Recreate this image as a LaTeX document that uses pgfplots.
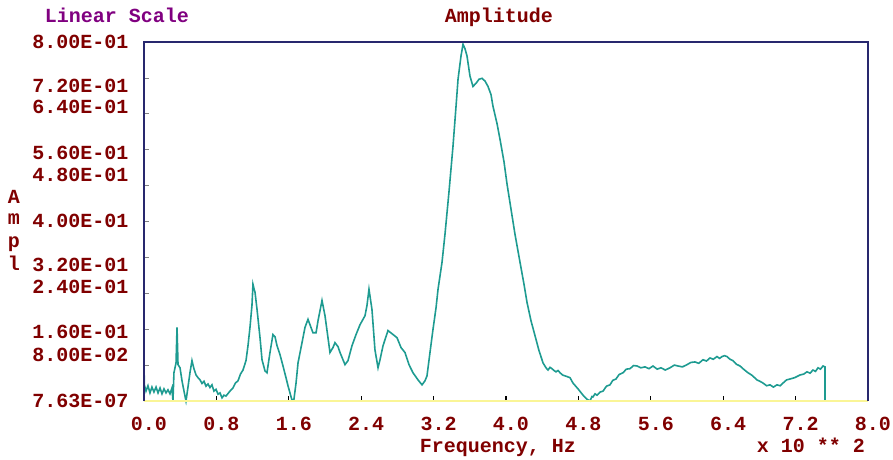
\documentclass[border=0pt]{standalone}
\usepackage{fontspec}
\newfontfamily\dosfont{Liberation Mono}
\usepackage{pgfplots}
\pgfplotsset{compat=1.18}
\definecolor{labred}{RGB}{128,0,0}
\definecolor{labpurple}{RGB}{128,0,128}
\definecolor{framenavy}{RGB}{40,40,110}
\definecolor{axisyellow}{RGB}{250,245,150}
\definecolor{curveteal}{RGB}{30,155,145}
\newcommand{\lbl}{\dosfont\bfseries\fontsize{20bp}{22bp}\selectfont}

\pgfplotstableread{
x y
0.000 0.075
0.005 0.035
0.022 0.022
0.044 0.034
0.066 0.018
0.088 0.031
0.110 0.020
0.133 0.031
0.155 0.018
0.177 0.029
0.199 0.016
0.221 0.027
0.243 0.018
0.265 0.025
0.287 0.016
0.309 0.029
0.320 0.000
0.331 0.063
0.354 0.085
0.365 0.164
0.376 0.081
0.398 0.074
0.420 0.045
0.442 0.022
0.464 0.000
0.486 0.031
0.508 0.063
0.530 0.090
0.552 0.072
0.575 0.058
0.597 0.052
0.619 0.047
0.641 0.039
0.663 0.044
0.685 0.033
0.707 0.038
0.729 0.030
0.751 0.036
0.773 0.022
0.796 0.026
0.818 0.015
0.840 0.018
0.862 0.007
0.884 0.013
0.906 0.011
0.950 0.022
0.983 0.029
1.010 0.040
1.039 0.045
1.066 0.060
1.094 0.069
1.127 0.090
1.149 0.123
1.171 0.164
1.193 0.213
1.204 0.260
1.216 0.250
1.227 0.242
1.249 0.204
1.282 0.141
1.304 0.092
1.337 0.067
1.359 0.063
1.392 0.108
1.425 0.148
1.448 0.143
1.470 0.123
1.503 0.103
1.536 0.078
1.569 0.052
1.591 0.034
1.635 0.002
1.657 0.004
1.680 0.040
1.702 0.085
1.746 0.130
1.779 0.164
1.812 0.182
1.845 0.164
1.867 0.152
1.901 0.152
1.923 0.179
1.967 0.224
2.000 0.190
2.033 0.141
2.055 0.108
2.088 0.119
2.110 0.130
2.144 0.121
2.166 0.108
2.221 0.081
2.254 0.090
2.298 0.123
2.343 0.148
2.387 0.170
2.442 0.190
2.464 0.213
2.486 0.249
2.519 0.204
2.552 0.114
2.586 0.074
2.608 0.092
2.641 0.123
2.696 0.157
2.740 0.150
2.796 0.141
2.840 0.119
2.884 0.108
2.928 0.081
2.972 0.063
3.028 0.047
3.072 0.036
3.105 0.045
3.127 0.056
3.160 0.108
3.193 0.159
3.227 0.208
3.249 0.249
3.293 0.309
3.326 0.372
3.370 0.466
3.414 0.567
3.448 0.657
3.470 0.717
3.503 0.769
3.525 0.795
3.547 0.785
3.569 0.769
3.602 0.724
3.635 0.701
3.669 0.708
3.702 0.717
3.735 0.719
3.768 0.713
3.801 0.701
3.834 0.683
3.856 0.657
3.901 0.618
3.934 0.583
3.978 0.533
4.011 0.484
4.055 0.428
4.099 0.372
4.155 0.309
4.199 0.260
4.232 0.220
4.276 0.179
4.320 0.146
4.365 0.112
4.409 0.085
4.442 0.074
4.464 0.069
4.486 0.075
4.508 0.072
4.530 0.068
4.552 0.065
4.575 0.068
4.597 0.063
4.624 0.058
4.652 0.056
4.680 0.054
4.707 0.052
4.740 0.040
4.796 0.027
4.851 0.013
4.895 0.004
4.928 0.000
4.950 0.010
4.961 0.009
4.984 0.016
5.006 0.013
5.040 0.020
5.072 0.022
5.110 0.033
5.149 0.036
5.180 0.046
5.215 0.049
5.250 0.059
5.293 0.063
5.330 0.071
5.370 0.072
5.410 0.079
5.448 0.078
5.490 0.074
5.536 0.076
5.580 0.072
5.624 0.078
5.670 0.071
5.713 0.074
5.760 0.069
5.812 0.074
5.860 0.080
5.901 0.078
5.950 0.076
6.000 0.081
6.044 0.086
6.088 0.087
6.130 0.084
6.177 0.092
6.215 0.089
6.254 0.096
6.290 0.093
6.331 0.099
6.360 0.095
6.387 0.099
6.415 0.101
6.442 0.099
6.475 0.093
6.508 0.090
6.545 0.082
6.586 0.078
6.630 0.070
6.674 0.063
6.720 0.057
6.773 0.047
6.805 0.044
6.840 0.040
6.880 0.034
6.917 0.036
6.955 0.031
6.994 0.036
7.030 0.034
7.061 0.040
7.100 0.047
7.138 0.049
7.190 0.052
7.249 0.058
7.290 0.060
7.326 0.065
7.360 0.062
7.392 0.069
7.420 0.066
7.448 0.074
7.475 0.071
7.503 0.078
7.525 0.076
7.525 0.000
}\amplitude

\begin{document}
\begin{tikzpicture}
\path[use as bounding box] (-144bp,-59bp) rectangle (749bp,401bp);
\begin{axis}[
  scale only axis, width=724bp, height=359bp,
  xmin=0, xmax=8, ymin=0, ymax=0.8,
  axis line style={draw=none},
  tick align=inside, xtick pos=bottom, ytick pos=left,
  major tick length=5bp,
  xtick={0,0.8,1.6,2.4,3.2,4.0,4.8,5.6,6.4,7.2,8.0},
  xticklabels={0.0,0.8,1.6,2.4,3.2,4.0,4.8,5.6,6.4,7.2,8.0},
  xticklabel style={font=\lbl, text=labred, xshift=5bp, yshift=-13bp},
  x tick style={black, line width=1.2bp},
  ytick={0.08,0.16,0.24,0.32,0.40,0.48,0.56,0.64,0.72},
  yticklabels={},
  y tick style={gray, line width=0.8bp},
  extra y ticks={0.8,0.702,0.655,0.553,0.504,0.401,0.303,0.254,0.154,0.102,0},
  extra y tick labels={8.00E-01,7.20E-01,6.40E-01,5.60E-01,4.80E-01,4.00E-01,3.20E-01,2.40E-01,1.60E-01,8.00E-02,7.63E-07},
  extra y tick style={tick style={draw=none}},
  yticklabel style={font=\lbl, text=labred, xshift=-12bp},
  clip=false,
]
\addplot[curveteal, line width=1.6bp] table {\amplitude};
\draw[axisyellow, line width=2bp] (rel axis cs:0,0) -- (rel axis cs:1,0);
\draw[framenavy, line width=1.3bp] (rel axis cs:0,0) -- (rel axis cs:0,1) -- (rel axis cs:1,1) -- (rel axis cs:1,0);
\end{axis}
\node[anchor=base, text=labpurple, font=\lbl] at (-27bp,378bp) {Linear Scale};
\node[anchor=base, text=labred, font=\lbl] at (355bp,378bp) {Amplitude};
\node[anchor=base, text=labred, font=\lbl] at (354bp,-51bp) {Frequency, Hz};
\node[anchor=base, text=labred, font=\lbl] at (667bp,-51bp) {x 10 ** 2};
\node[anchor=base, text=labred, font=\lbl] at (-130bp,197bp) {A};
\node[anchor=base, text=labred, font=\lbl] at (-130bp,176bp) {m};
\node[anchor=base, text=labred, font=\lbl] at (-130bp,153bp) {p};
\node[anchor=base, text=labred, font=\lbl] at (-130bp,130bp) {l};
\end{tikzpicture}
\end{document}
